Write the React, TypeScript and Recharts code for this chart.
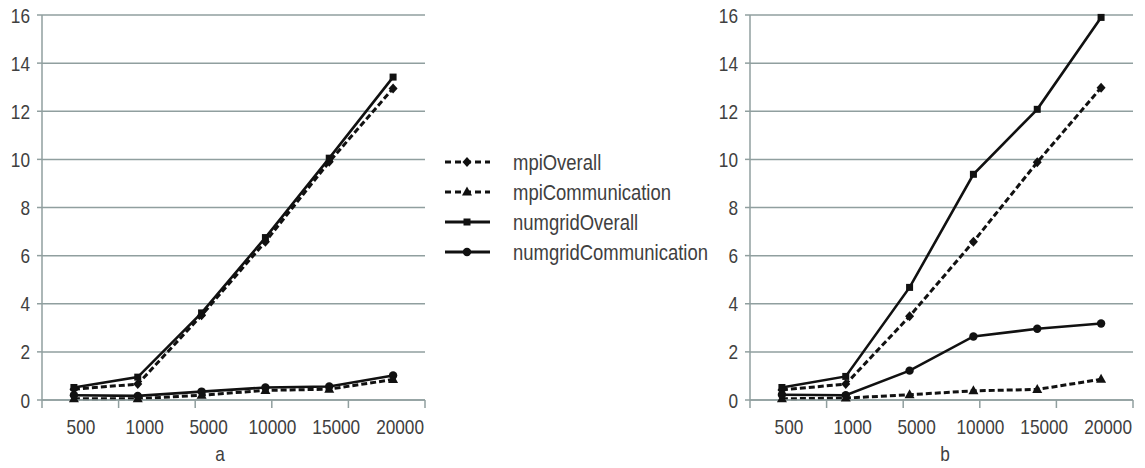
import React from 'react';
import { LineChart, Line, XAxis, YAxis, CartesianGrid } from 'recharts';

const categories = ['500', '1000', '5000', '10000', '15000', '20000'];
const yTicks = [0, 2, 4, 6, 8, 10, 12, 14, 16];
const boundaryTicks = [0, 1, 2, 3, 4, 5, 6];

const aMpiOverall = [0.45, 0.66, 3.52, 6.58, 9.9, 12.95];
const aMpiCommunication = [0.05, 0.05, 0.2, 0.4, 0.45, 0.85];
const aNumgridOverall = [0.52, 0.95, 3.62, 6.75, 10.05, 13.42];
const aNumgridCommunication = [0.2, 0.17, 0.35, 0.52, 0.56, 1.02];

const bMpiOverall = [0.42, 0.66, 3.48, 6.58, 9.88, 12.98];
const bMpiCommunication = [0.05, 0.08, 0.22, 0.38, 0.44, 0.86];
const bNumgridOverall = [0.52, 0.98, 4.68, 9.38, 12.08, 15.9];
const bNumgridCommunication = [0.22, 0.2, 1.22, 2.64, 2.96, 3.18];

const seriesNames = ['mpiOverall', 'mpiCommunication', 'numgridOverall', 'numgridCommunication'];
const seriesShapes = ['diamond', 'triangle', 'square', 'circle'];
const seriesDashed = [true, true, false, false];
const panelLabels = ['a', 'b'];

const FONT = '"Liberation Sans", Arial, sans-serif';
const NARROW = 0.82;
const TEXT = '#404040';
const GRID = '#909f9f';
const INK = '#111111';

function buildRows(a: number[], b: number[], c: number[], d: number[]) {
  return categories.map((cat, i) => ({
    cat,
    mpiOverall: a[i],
    mpiCommunication: b[i],
    numgridOverall: c[i],
    numgridCommunication: d[i],
  }));
}

const dataA = buildRows(aMpiOverall, aMpiCommunication, aNumgridOverall, aNumgridCommunication);
const dataB = buildRows(bMpiOverall, bMpiCommunication, bNumgridOverall, bNumgridCommunication);

function shapeEl(shape: string, cx: number, cy: number, key?: any) {
  if (shape === 'diamond') {
    return <path key={key} d={`M${cx},${cy - 5} L${cx + 4.5},${cy} L${cx},${cy + 5} L${cx - 4.5},${cy} Z`} fill={INK} />;
  }
  if (shape === 'triangle') {
    return <path key={key} d={`M${cx},${cy - 5.5} L${cx + 5},${cy + 3.5} L${cx - 5},${cy + 3.5} Z`} fill={INK} />;
  }
  if (shape === 'square') {
    return <rect key={key} x={cx - 3.5} y={cy - 3.5} width={7} height={7} fill={INK} />;
  }
  return <circle key={key} cx={cx} cy={cy} r={4.2} fill={INK} />;
}

const makeDot = (shape: string) => (props: any) => {
  const { cx, cy, index } = props;
  if (cx == null || cy == null) return <g key={index} />;
  return shapeEl(shape, cx, cy, index);
};

function NarrowText({ x, y, anchor, dy, size, children }: any) {
  return (
    <text
      x={0}
      y={0}
      dy={dy}
      transform={`translate(${x},${y}) scale(${NARROW},1)`}
      textAnchor={anchor}
      fill={TEXT}
      fontSize={size}
      fontFamily={FONT}
    >
      {children}
    </text>
  );
}

const YTick = (props: any) => (
  <NarrowText x={props.x} y={props.y} anchor="end" dy="0.36em" size={21}>
    {props.payload.value}
  </NarrowText>
);

const XTick = (props: any) => (
  <NarrowText x={props.x + 7} y={props.y} anchor="middle" dy="0.71em" size={21}>
    {props.payload.value}
  </NarrowText>
);

const EmptyTick = () => <g />;

function Panel({ data, width, yAxisWidth, marginRight }: { data: any[]; width: number; yAxisWidth: number; marginRight: number }) {
  return (
    <LineChart width={width} height={468} data={data} margin={{ top: 15, right: marginRight, bottom: 0, left: 0 }}>
      <CartesianGrid vertical={false} stroke={GRID} strokeWidth={1.5} xAxisId={1} />
      <XAxis
        xAxisId={0}
        type="number"
        domain={[0, 6]}
        ticks={boundaryTicks}
        allowDataOverflow
        interval={0}
        tick={EmptyTick}
        tickSize={8}
        height={1}
        axisLine={{ stroke: GRID, strokeWidth: 1.5 }}
        tickLine={{ stroke: GRID, strokeWidth: 1.5 }}
      />
      <XAxis
        xAxisId={1}
        dataKey="cat"
        scale="band"
        height={67}
        axisLine={false}
        tickLine={false}
        tickSize={0}
        tickMargin={18}
        interval={0}
        tick={XTick}
      />
      <YAxis
        width={yAxisWidth}
        domain={[0, 16]}
        ticks={yTicks}
        interval={0}
        tickSize={5}
        tickMargin={7}
        axisLine={{ stroke: GRID, strokeWidth: 1.5 }}
        tickLine={{ stroke: GRID, strokeWidth: 1.5 }}
        tick={YTick}
      />
      {seriesNames.map((name, i) => (
        <Line
          key={name}
          xAxisId={1}
          type="linear"
          dataKey={name}
          stroke={INK}
          strokeWidth={seriesDashed[i] ? 3 : 2.6}
          strokeDasharray={seriesDashed[i] ? '6 3' : undefined}
          dot={makeDot(seriesShapes[i])}
          activeDot={false}
          isAnimationActive={false}
        />
      ))}
    </LineChart>
  );
}

function Overlay() {
  return (
    <svg width={1145} height={468} style={{ position: 'absolute', left: 0, top: 0, pointerEvents: 'none' }}>
      {seriesNames.map((name, i) => {
        const y = 162 + i * 30;
        return (
          <g key={name}>
            <line
              x1={445}
              x2={490}
              y1={y}
              y2={y}
              stroke={INK}
              strokeWidth={3}
              strokeDasharray={seriesDashed[i] ? '6 4' : undefined}
            />
            {shapeEl(seriesShapes[i], 467, y)}
            <text
              x={0}
              y={0}
              dy="0.36em"
              transform={`translate(513,${y}) scale(0.84,1)`}
              fill={TEXT}
              fontSize={22}
              fontFamily={FONT}
            >
              {name}
            </text>
          </g>
        );
      })}
      <NarrowText x={220} y={461} anchor="middle" dy="0" size={21}>{panelLabels[0]}</NarrowText>
      <NarrowText x={945} y={461} anchor="middle" dy="0" size={21}>{panelLabels[1]}</NarrowText>
    </svg>
  );
}

export default function App() {
  return (
    <div style={{ position: 'absolute', left: 0, top: 0, width: 1145, height: 468, background: '#ffffff', overflow: 'hidden' }}>
      <div style={{ position: 'absolute', left: 0, top: 0 }}>
        <Panel data={dataA} width={440} yAxisWidth={42} marginRight={15} />
      </div>
      <div style={{ position: 'absolute', left: 700, top: 0 }}>
        <Panel data={dataB} width={445} yAxisWidth={50} marginRight={12} />
      </div>
      <Overlay />
    </div>
  );
}
